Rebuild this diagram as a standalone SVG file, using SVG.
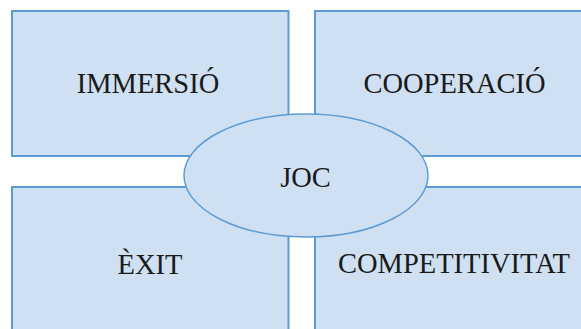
<svg xmlns="http://www.w3.org/2000/svg" width="581" height="329" viewBox="0 0 581 329">
<style>
.box{fill:#cfe0f2;stroke:#5b9bd5;stroke-width:2}
.ell{fill:#cfe0f2;stroke:#5b9bd5;stroke-width:1.5}
.lbl{font-family:"Liberation Serif","Times New Roman",serif;font-size:28.5px;fill:#1a1a1a;text-anchor:middle}
</style>
<rect width="581" height="329" fill="#ffffff"/>
<g id="immersio"><rect class="box" x="12" y="11" width="276.5" height="145"/><text class="lbl" x="148" y="93">IMMERSIÓ</text></g>
<g id="cooperacio"><rect class="box" x="315" y="11" width="280" height="145"/><text class="lbl" x="454.5" y="93">COOPERACIÓ</text></g>
<g id="exit"><rect class="box" x="12" y="187" width="276.5" height="160"/><text class="lbl" x="150" y="274">ÈXIT</text></g>
<g id="competitivitat"><rect class="box" x="315" y="187" width="280" height="160"/><text class="lbl" x="454" y="273">COMPETITIVITAT</text></g>
<g id="joc"><ellipse class="ell" cx="306" cy="175.5" rx="122" ry="61.5"/><text class="lbl" x="305.5" y="187">JOC</text></g>
<g id="connectors"></g>
</svg>
